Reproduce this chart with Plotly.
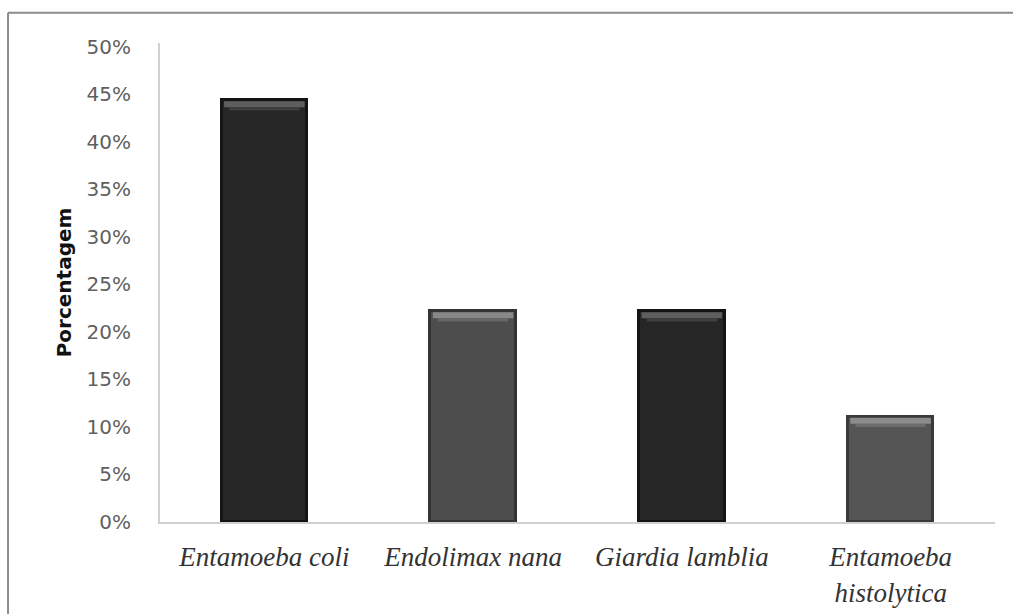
import plotly.graph_objects as go

# Parasite species found and their share of positive samples (%)
species = ["Entamoeba coli", "Endolimax nana", "Giardia lamblia", "Entamoeba<br>histolytica"]
percent = [44.4, 22.2, 22.2, 11.1]
bar_colors = ["#262626", "#4d4d4d", "#262626", "#555555"]
edge_colors = ["#141414", "#333333", "#141414", "#3a3a3a"]
bevel_colors = ["#5e5e5e", "#888888", "#5e5e5e", "#8c8c8c"]
y_ticks = [0, 5, 10, 15, 20, 25, 30, 35, 40, 45, 50]

x_pos = list(range(len(species)))
bar_width = 0.41

fig = go.Figure()
fig.add_trace(go.Bar(
    x=x_pos, y=percent, width=bar_width,
    marker=dict(color=bar_colors, line=dict(color=edge_colors, width=3)),
    hoverinfo="skip",
))

# Lighter bevelled band along the top of each bar
for i, v in enumerate(percent):
    half = bar_width / 2 - 0.012
    fig.add_trace(go.Scatter(
        x=[i - half, i + half], y=[v - 0.45, v - 0.45],
        mode="lines", line=dict(color=bevel_colors[i], width=6),
        hoverinfo="skip",
    ))
    fig.add_trace(go.Scatter(
        x=[i - half + 0.025, i + half - 0.025], y=[v - 0.95, v - 0.95],
        mode="lines", line=dict(color=bevel_colors[i], width=3), opacity=0.45,
        hoverinfo="skip",
    ))

fig.update_layout(
    width=1013, height=614,
    margin=dict(l=160, r=18, t=43, b=92),
    paper_bgcolor="white", plot_bgcolor="white",
    showlegend=False, bargap=0,
    xaxis=dict(
        range=[-0.5, 3.5], tickmode="array", tickvals=x_pos, ticktext=species,
        showgrid=False, zeroline=False, showline=True, linecolor="#d0d0d0", linewidth=2,
        ticks="", ticklabelstandoff=10, automargin=False,
        tickfont=dict(family="Liberation Serif", size=27, color="#333333", style="italic"),
    ),
    yaxis=dict(
        range=[0, 50.4], tickmode="array", tickvals=y_ticks,
        ticktext=[f"{t}%" for t in y_ticks],
        showgrid=False, zeroline=False, showline=True, linecolor="#d0d0d0", linewidth=2,
        ticks="", ticklabelstandoff=23, automargin=False,
        tickfont=dict(family="DejaVu Sans", size=20, color="#5f5f5f"),
        title=dict(text="Porcentagem", standoff=10,
                   font=dict(family="DejaVu Sans", size=20, color="#111111", weight="bold")),
    ),
    shapes=[
        dict(type="line", xref="paper", yref="paper", x0=-0.182, x1=-0.182, y0=1.063, y1=-0.3,
             line=dict(color="#8c8c8c", width=2)),
        dict(type="line", xref="paper", yref="paper", x0=-0.182, x1=1.05, y0=1.063, y1=1.063,
             line=dict(color="#8c8c8c", width=2)),
    ],
)

fig.write_html("out.html")
